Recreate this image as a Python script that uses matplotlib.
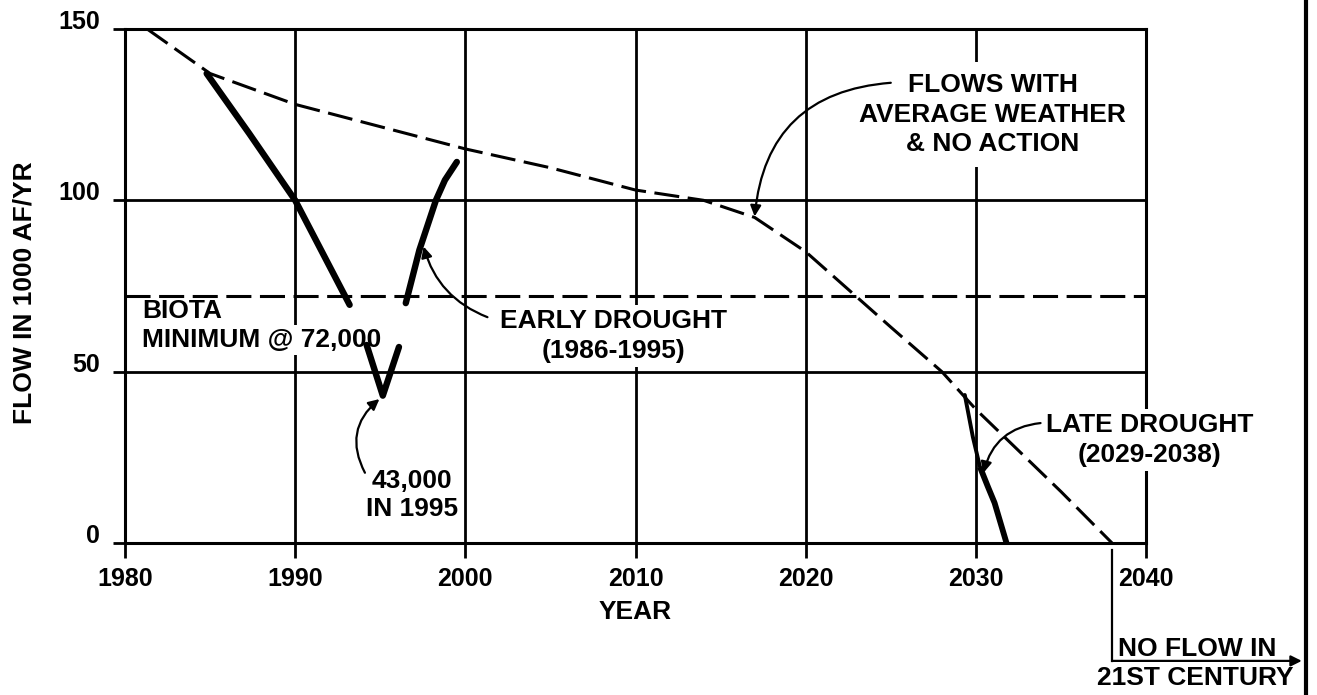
import numpy as np
import matplotlib
matplotlib.use("Agg")
import matplotlib.pyplot as plt
from matplotlib.lines import Line2D

plt.rcParams['font.family'] = ['Liberation Sans', 'DejaVu Sans']
plt.rcParams['font.weight'] = 'bold'

# Axis ticks
x_ticks = [1980, 1990, 2000, 2010, 2020, 2030, 2040]
y_ticks = [0, 50, 100, 150]

# Flow with average weather and no action (1000 AF/yr)
avg_years = [1981.3, 1985, 1990, 1995, 2000, 2005, 2010, 2014, 2017, 2020, 2025, 2028, 2030, 2035, 2038]
avg_flow = [150, 137, 128, 121.5, 115, 109.5, 103, 100, 95, 85, 63, 50, 39, 15, 0]

# Minimum flow for biota
biota_level = 72

# Early drought (1986-1995), drawn in pieces
early_years = [1984.8, 1987.3, 1990.0, 1993.2, np.nan,
               1994.2, 1995.15, 1996.1, np.nan,
               1996.5, 1997.3, 1998.27, 1998.8, 1999.5]
early_flow = [137, 119.5, 100, 69.5, np.nan,
              57.8, 43, 57.2, np.nan,
              70, 85.5, 100, 105.9, 111.2]

# Late drought (2029-2038)
late_years = [2029.35, 2029.82, 2030.24, 2030.7, 2031.1, 2031.8]
late_flow = [43.2, 31, 22.2, 16.5, 11.7, 0]

# Year the average-weather flow reaches zero
no_flow_year = 2038

FS = 19

fig = plt.figure(figsize=(13.17, 6.95), dpi=100)
ax = fig.add_axes([0.0949, 0.2187, 0.7753, 0.7396])
ax.set_xlim(1980, 2040)
ax.set_ylim(0, 150)
ax.set_xticks(x_ticks)
ax.set_yticks(y_ticks)
ax.set_xticklabels([str(v) for v in x_ticks])
ax.set_yticklabels([str(v) for v in y_ticks])
ax.grid(True, color='black', lw=2)
ax.set_axisbelow(True)
for s in ax.spines.values():
    s.set_linewidth(2.2)
ax.tick_params(axis='both', direction='out', width=2, colors='black', labelsize=18)
ax.tick_params(axis='x', length=11, pad=6)
ax.tick_params(axis='y', length=9, pad=9)
for lab in ax.get_yticklabels():
    lab.set_va('baseline')
for lab in ax.get_xticklabels() + ax.get_yticklabels():
    lab.set_fontweight('bold')

ax.set_xlabel('YEAR', fontsize=FS, fontweight='bold', labelpad=7)
fig.text(25 / 1317, 1 - 293 / 695, 'FLOW IN 1000 AF/YR', rotation=90,
         ha='center', va='center', fontsize=FS, fontweight='bold')

# Curves
ax.plot(avg_years, avg_flow, color='black', lw=2.2, dashes=(8.2, 2.8), zorder=3)
ax.plot([1980, 2040], [biota_level, biota_level], color='black', lw=2.2,
        dashes=(8.2, 2.8), zorder=3)
ax.plot(early_years, early_flow, color='black', lw=4.6, solid_capstyle='round',
        solid_joinstyle='round', zorder=6)
# late drought: thin upper part, heavier lower part
ax.plot(late_years[:3], late_flow[:3], color='black', lw=2.8, solid_capstyle='round',
        solid_joinstyle='round', zorder=6)
ax.plot(late_years[2:], late_flow[2:], color='black', lw=4.2, solid_capstyle='butt',
        solid_joinstyle='round', zorder=6)

box = dict(facecolor='white', edgecolor='none', pad=3)
tkw = dict(fontsize=FS, fontweight='bold', zorder=5, linespacing=1.3)
arrow = dict(arrowstyle='-|>', color='black', lw=1.6, mutation_scale=16,
             shrinkA=0, shrinkB=0)

ax.text(2031.0, 125.0, 'FLOWS WITH\nAVERAGE WEATHER\n& NO ACTION', ha='center',
        va='center', bbox=dict(facecolor='white', edgecolor='none', pad=8), **tkw)
ax.annotate('', xy=(2017.0, 95.3), xytext=(2025.0, 134.3),
            arrowprops=dict(connectionstyle='arc3,rad=0.42', **arrow), zorder=5)

ax.text(2008.7, 60.4, 'EARLY DROUGHT\n(1986-1995)', ha='center', va='center',
        bbox=box, **tkw)
ax.annotate('', xy=(1997.55, 86.5), xytext=(2001.3, 65.9),
            arrowprops=dict(connectionstyle='arc3,rad=-0.25', **arrow), zorder=5)

ax.text(1981.0, 67.6, 'BIOTA', ha='left', va='center', **tkw)
ax.text(1981.0, 59.3, 'MINIMUM @ 72,000', ha='left', va='center',
        bbox=dict(facecolor='white', edgecolor='none', pad=2), **tkw)

ax.text(1996.85, 14.0, '43,000\nIN 1995', ha='center', va='center',
        **dict(tkw, linespacing=1.2))
ax.annotate('', xy=(1994.95, 42.0), xytext=(1994.1, 20.5),
            arrowprops=dict(connectionstyle='arc3,rad=-0.4', **arrow), zorder=5)

ax.text(2040.2, 30.0, 'LATE DROUGHT\n(2029-2038)', ha='center', va='center',
        bbox=box, **tkw)
ax.annotate('', xy=(2030.45, 20.5), xytext=(2033.8, 35.0),
            arrowprops=dict(connectionstyle='arc3,rad=0.35', **arrow), zorder=5)

# No flow marker below the axis
ax.plot([no_flow_year, no_flow_year], [-2, -34.4], color='black', lw=1.6, clip_on=False)
ax.annotate('', xy=(2049.15, -34.4), xytext=(no_flow_year, -34.4),
            arrowprops=dict(arrowstyle='-|>', color='black', lw=1.6,
                            mutation_scale=16, shrinkA=0, shrinkB=0),
            annotation_clip=False)
ax.text(no_flow_year + 0.35, -33.0, 'NO FLOW IN', ha='left', va='baseline',
        fontsize=FS, fontweight='bold', clip_on=False)
ax.text(2042.9, -39.4, '21ST CENTURY', ha='center', va='center',
        fontsize=FS, fontweight='bold', clip_on=False)

# Page border at right
fig.add_artist(Line2D([1306 / 1317, 1306 / 1317], [0, 1], transform=fig.transFigure,
                      color='black', lw=3))

fig.savefig('out.png', dpi=100, facecolor='white')
